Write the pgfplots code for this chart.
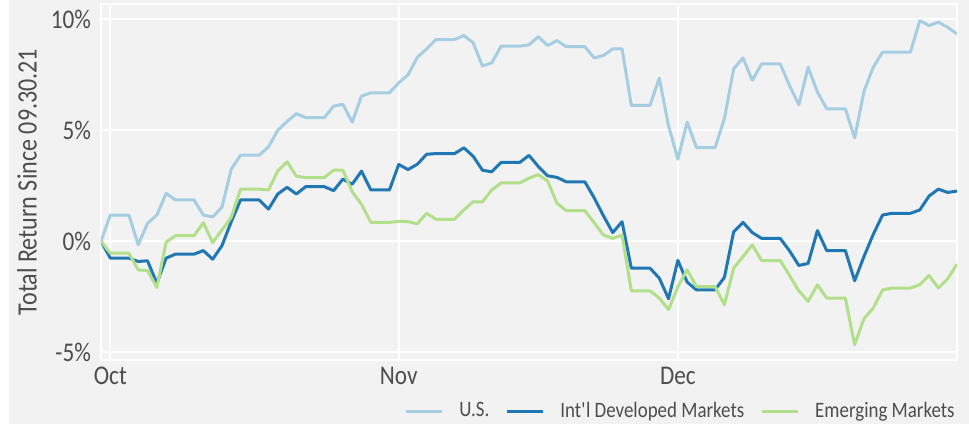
\documentclass[border=0pt]{standalone}
\usepackage{pgfplots}
\pgfplotsset{compat=1.18}
\usepackage{pgfplotstable}
\usepackage{fontspec}
\setmainfont[FakeStretch=0.86]{Carlito}

\definecolor{bggray}{HTML}{F2F2F2}
\definecolor{txt}{HTML}{4D4D4D}
\definecolor{usblue}{HTML}{A6CEE3}
\definecolor{intlblue}{HTML}{1F78B4}
\definecolor{emgreen}{HTML}{B2DF8A}

% day 0 = 09.30.21, calendar days through 12.31.21, total return in %
\pgfplotstableread{
d us intl em
0 0 0 0
1 1.18 -0.76 -0.54
2 1.18 -0.76 -0.54
3 1.18 -0.76 -0.54
4 -0.16 -0.91 -1.29
5 0.81 -0.88 -1.32
6 1.18 -1.89 -2.08
7 2.16 -0.76 -0.04
8 1.86 -0.58 0.25
9 1.86 -0.58 0.25
10 1.86 -0.58 0.25
11 1.18 -0.42 0.84
12 1.10 -0.81 -0.06
13 1.53 -0.20 0.51
14 3.25 0.88 1.08
15 3.88 1.86 2.35
16 3.88 1.86 2.35
17 3.88 1.86 2.35
18 4.25 1.45 2.31
19 5.00 2.13 3.17
20 5.40 2.43 3.58
21 5.75 2.13 2.93
22 5.57 2.46 2.87
23 5.57 2.46 2.87
24 5.57 2.46 2.87
25 6.09 2.28 3.20
26 6.17 2.80 3.20
27 5.37 2.57 2.23
28 6.54 3.16 1.66
29 6.69 2.31 0.85
30 6.69 2.31 0.85
31 6.69 2.31 0.85
32 7.14 3.46 0.90
33 7.50 3.23 0.88
34 8.29 3.47 0.79
35 8.67 3.92 1.26
36 9.09 3.95 0.99
37 9.09 3.95 0.99
38 9.09 3.95 0.99
39 9.27 4.21 1.41
40 8.94 3.83 1.78
41 7.89 3.20 1.78
42 8.04 3.13 2.31
43 8.79 3.55 2.63
44 8.79 3.55 2.63
45 8.79 3.55 2.63
46 8.85 3.87 2.84
47 9.22 3.37 3.00
48 8.82 2.95 2.72
49 9.04 2.88 1.72
50 8.77 2.68 1.38
51 8.77 2.68 1.38
52 8.77 2.68 1.38
53 8.26 1.96 0.84
54 8.37 1.15 0.28
55 8.67 0.39 0.13
56 8.67 0.88 0.28
57 6.12 -1.21 -2.23
58 6.12 -1.21 -2.23
59 6.12 -1.21 -2.23
60 7.35 -1.66 -2.56
61 5.20 -2.59 -3.08
62 3.70 -0.86 -2.05
63 5.37 -1.84 -1.29
64 4.22 -2.19 -2.04
65 4.22 -2.19 -2.04
66 4.22 -2.19 -2.04
67 5.52 -1.63 -2.86
68 7.77 0.43 -1.21
69 8.26 0.85 -0.69
70 7.25 0.39 -0.16
71 7.99 0.13 -0.87
72 7.99 0.13 -0.87
73 7.99 0.13 -0.87
74 7.02 -0.43 -1.54
75 6.15 -1.09 -2.23
76 7.84 -1.00 -2.71
77 6.72 0.48 -1.96
78 5.97 -0.42 -2.56
79 5.97 -0.42 -2.56
80 5.97 -0.42 -2.56
81 4.66 -1.78 -4.66
82 6.75 -0.69 -3.49
83 7.84 0.31 -3.01
84 8.52 1.18 -2.19
85 8.52 1.26 -2.11
86 8.52 1.26 -2.11
87 8.52 1.26 -2.11
88 9.94 1.41 -1.96
89 9.72 2.04 -1.54
90 9.87 2.35 -2.11
91 9.64 2.20 -1.69
92 9.34 2.26 -1.03
}\returns

\begin{document}
\begin{tikzpicture}
\path[use as bounding box] (-50.5pt,-32pt) rectangle (434pt,180pt);
\fill[bggray] (-50.5pt,-32pt) rectangle (434pt,180pt);
\fill[white] (-50.5pt,-32pt) rectangle (-46pt,180pt);
\begin{axis}[
    at={(0,0)}, anchor=south west,
    scale only axis,
    width=428pt, height=178pt,
    xmin=0, xmax=92,
    ymin=-5.35, ymax=10.69,
    xtick={1,32,62}, xticklabels={Oct,Nov,Dec},
    ytick={-5,0,5,10}, yticklabels={-5\%,0\%,5\%,10\%},
    grid=major,
    grid style={white, line width=1pt},
    axis line style={white, line width=1pt},
    major tick length=0pt,
    tick label style={font=\fontsize{13.5}{16}\selectfont, text=txt},
    yticklabel style={xshift=-1.5pt},
    ylabel={Total Return Since 09.30.21},
    ylabel style={font=\fontsize{14}{16}\selectfont, text=txt,
        at={(axis description cs:-0.0864,0.5)}, anchor=center},
    legend columns=3,
    legend style={at={(axis description cs:1,0)}, anchor=east,
        yshift=-25.5pt, xshift=4pt, draw=none, fill=none,
        font=\fontsize{11}{13}\selectfont, text=txt,
        /tikz/every even column/.append style={column sep=6pt},
        /tikz/every odd column/.append style={column sep=6pt}},
    legend image code/.code={\draw[#1] (0pt,0pt) -- (18pt,0pt);},
]
\addplot[usblue, line width=1.5pt, line join=round] table[x=d, y=us] {\returns};
\addplot[intlblue, line width=1.5pt, line join=round] table[x=d, y=intl] {\returns};
\addplot[emgreen, line width=1.5pt, line join=round] table[x=d, y=em] {\returns};
\legend{U.S., Int\textquotesingle l Developed Markets, Emerging Markets}
\end{axis}
\end{tikzpicture}
\end{document}
